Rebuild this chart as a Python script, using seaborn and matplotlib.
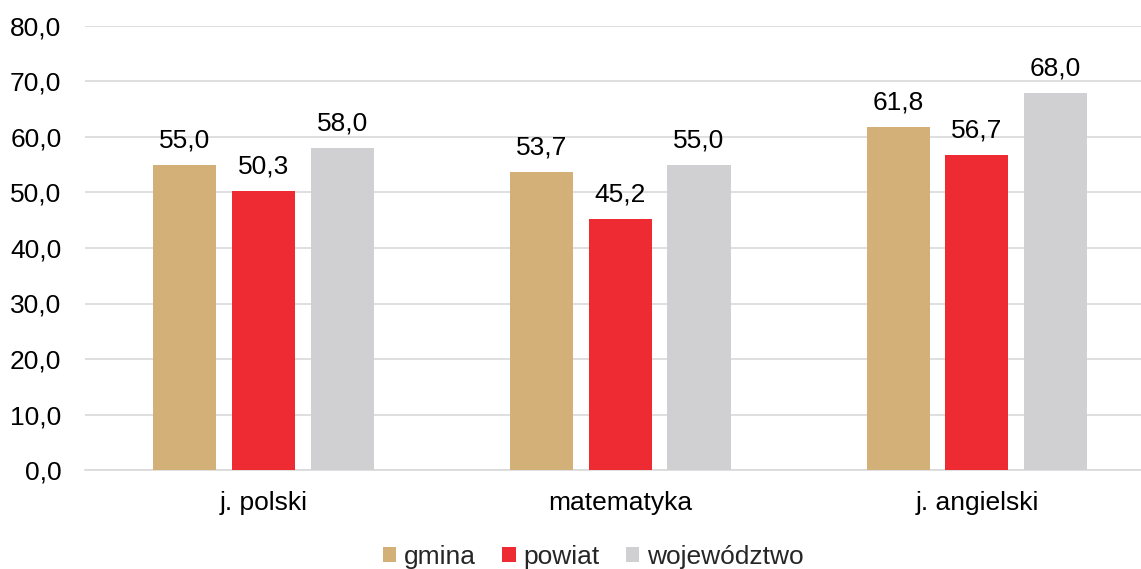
import numpy as np
import pandas as pd
import matplotlib
matplotlib.use("Agg")
import matplotlib.pyplot as plt
import seaborn as sns

# dane
przedmioty = ['j. polski', 'matematyka', 'j. angielski']
serie = ['gmina', 'powiat', 'województwo']
gmina = [55.0, 53.7, 61.8]
powiat = [50.3, 45.2, 56.7]
wojewodztwo = [58.0, 55.0, 68.0]
kolory = ['#D2B077', '#EE2A33', '#D0D0D2']

df = pd.DataFrame({
    'przedmiot': przedmioty * 3,
    'seria': [s for s in serie for _ in przedmioty],
    'wynik': gmina + powiat + wojewodztwo,
})

sns.set_style('white')
plt.rcParams['font.family'] = ['Liberation Sans', 'DejaVu Sans']
fs = 19

fig = plt.figure(figsize=(11.41, 5.69), dpi=100)
ax = fig.add_axes([85 / 1141, 99 / 569, 1056 / 1141, 444 / 569])

sns.barplot(data=df, x='przedmiot', y='wynik', hue='seria', palette=kolory,
            saturation=1, width=0.663, gap=0.2, ax=ax, zorder=3,
            linewidth=0, edgecolor='none', legend=True)

for cont in ax.containers:
    labs = [f'{v:.1f}'.replace('.', ',') for v in cont.datavalues]
    ax.bar_label(cont, labels=labs, padding=9, fontsize=fs, color='#000000')

ax.set_ylim(0, 80)
ax.set_xlim(-0.5, 2.46)
ax.set_yticks(np.arange(0, 81, 10))
ax.set_yticklabels([f'{v:.1f}'.replace('.', ',') for v in np.arange(0, 81, 10)])
ax.yaxis.grid(True, color='#D9D9D9', linewidth=1.2, zorder=0)
ax.set_xlabel('')
ax.set_ylabel('')
for s in ['top', 'right', 'left']:
    ax.spines[s].set_visible(False)
ax.spines['bottom'].set_color('#D9D9D9')
ax.spines['bottom'].set_linewidth(1.2)
ax.tick_params(axis='y', length=0, labelsize=fs, pad=17, labelcolor='#000000')
ax.tick_params(axis='x', length=0, labelsize=fs, pad=15, labelcolor='#000000')

ax.legend(loc='center', bbox_to_anchor=(0.4815, -0.196), ncol=3,
          frameon=False, fontsize=fs, handlelength=0.5, handleheight=0.5,
          handletextpad=0.3, columnspacing=1.0, borderaxespad=0, borderpad=0)

fig.savefig('out.png', dpi=100)
